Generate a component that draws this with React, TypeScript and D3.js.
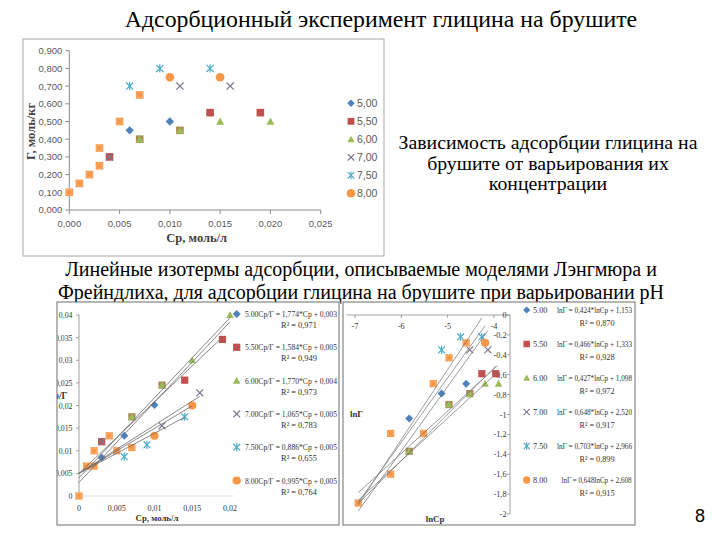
import React from 'react';
import * as d3 from 'd3';

// ---------- shared series info ----------
const seriesNamesComma = ["5,00", "5,50", "6,00", "7,00", "7,50", "8,00"];
const seriesNamesDot = ["5.00", "5.50", "6.00", "7.00", "7.50", "8.00"];
const seriesColors = ["#4F81BD", "#C0504D", "#9BBB59", "#7D7790", "#4BACC6", "#F79646"];
const seriesShapes = ["diamond", "square", "triangle", "x", "star", "circle"];

// ---------- top chart: Г vs Cp ----------
const topXTicks = [0, 0.005, 0.01, 0.015, 0.02, 0.025];
const topXTickLabels = ["0,000", "0,005", "0,010", "0,015", "0,020", "0,025"];
const topYTicks = [0, 0.1, 0.2, 0.3, 0.4, 0.5, 0.6, 0.7, 0.8, 0.9];
const topYTickLabels = ["0,000", "0,100", "0,200", "0,300", "0,400", "0,500", "0,600", "0,700", "0,800", "0,900"];
const top500 = [[0.006, 0.45], [0.01, 0.5]];
const top550 = [[0.004, 0.3], [0.007, 0.4], [0.011, 0.45], [0.014, 0.55], [0.019, 0.55]];
const top600 = [[0.007, 0.4], [0.011, 0.45], [0.015, 0.5], [0.02, 0.5]];
const top700 = [[0.004, 0.3], [0.011, 0.7], [0.016, 0.7]];
const top750 = [[0.006, 0.7], [0.009, 0.8], [0.014, 0.8]];
const top800 = [[0, 0.1, "s"], [0.001, 0.15, "s"], [0.002, 0.2, "s"], [0.003, 0.25, "s"], [0.003, 0.35, "s"], [0.005, 0.5, "s"], [0.007, 0.65, "s"], [0.01, 0.75, "c"], [0.015, 0.75, "c"]];

// ---------- bottom-left chart: Cp/Г vs Cp ----------
const blXTicks = [0, 0.005, 0.01, 0.015, 0.02];
const blXTickLabels = ["0", "0,005", "0,01", "0,015", "0,02"];
const blYTicks = [0, 0.005, 0.01, 0.015, 0.02, 0.025, 0.03, 0.035, 0.04];
const blYTickLabels = ["0", "0,005", "0,01", "0,015", "0,02", "0,025", "0,03", "0,035", "0,04"];
const bl500 = [[0.003, 0.0085], [0.006, 0.0133], [0.01, 0.0201]];
const bl550 = [[0.003, 0.012], [0.007, 0.0175], [0.011, 0.0245], [0.014, 0.0256], [0.019, 0.0346]];
const bl600 = [[0.007, 0.0175], [0.011, 0.0245], [0.015, 0.03], [0.02, 0.04]];
const bl700 = [[0.003, 0.012], [0.011, 0.0155], [0.016, 0.0228]];
const bl750 = [[0.006, 0.0087], [0.009, 0.0113], [0.014, 0.0175]];
const bl800 = [[0, 0, "s"], [0.001, 0.0066, "s"], [0.002, 0.01, "s"], [0.002, 0.0066, "s"], [0.004, 0.0133, "s"], [0.005, 0.01, "s"], [0.007, 0.0107, "s"], [0.01, 0.0133, "c"], [0.015, 0.02, "c"]];
const blSlopes = [1.774, 1.584, 1.770, 1.065, 0.886, 0.995];
const blIntercepts = [0.003, 0.005, 0.004, 0.005, 0.005, 0.005];
const blLineEnds = [0.02, 0.019, 0.02, 0.016, 0.014, 0.015];
const blEquations = ["Cp/Г = 1,774*Cp + 0,003", "Cp/Г = 1,584*Cp + 0,005", "Cp/Г = 1,770*Cp + 0,004", "Cp/Г = 1,065*Cp + 0,005", "Cp/Г = 0,886*Cp + 0,005", "Cp/Г = 0,995*Cp + 0,005"];
const blR2 = ["0,971", "0,949", "0,973", "0,783", "0,655", "0,764"];

// ---------- bottom-right chart: lnГ vs lnCp ----------
const brXTicks = [-7, -6, -5, -4];
const brXTickLabels = ["-7", "-6", "-5", "-4"];
const brYTicks = [0, -0.2, -0.4, -0.6, -0.8, -1, -1.2, -1.4, -1.6, -1.8, -2];
const brYTickLabels = ["0", "-0,2", "-0,4", "-0,6", "-0,8", "-1", "-1,2", "-1,4", "-1,6", "-1,8", "-2"];
const br500 = [[-5.83, -1.04], [-5.13, -0.79], [-4.6, -0.69]];
const br550 = [[-5.83, -1.37], [-4.97, -0.9], [-4.52, -0.79], [-4.26, -0.59], [-3.96, -0.59]];
const br600 = [[-5.83, -1.37], [-4.97, -0.9], [-4.52, -0.79], [-4.19, -0.69], [-3.9, -0.69]];
const br700 = [[-4.52, -0.35], [-4.13, -0.35]];
const br750 = [[-5.13, -0.35], [-4.72, -0.22], [-4.26, -0.22]];
const br800 = [[-6.93, -1.89, "s"], [-6.23, -1.6, "s"], [-6.23, -1.19, "s"], [-5.52, -1.19, "s"], [-5.31, -0.69, "s"], [-4.97, -0.43, "s"], [-4.6, -0.28, "s"], [-4.19, -0.28, "c"]];
const brSlopes = [0.424, 0.466, 0.427, 0.648, 0.703, 0.648];
const brIntercepts = [1.153, 1.333, 1.098, 2.520, 2.966, 2.608];
const brLineStart = -6.93;
const brLineEnds = [-3.92, -3.96, -3.9, -4.13, -4.26, -4.19];
const brEquations = ["lnГ = 0,424*lnCp + 1,153", "lnГ = 0,466*lnCp + 1,333", "lnГ = 0,427*lnCp + 1,098", "lnГ = 0,648*lnCp + 2,520", "lnГ = 0,703*lnCp + 2,966", "lnГ = 0,648lnCp + 2,608"];
const brR2 = ["0,870", "0,928", "0,972", "0,917", "0,899", "0,915"];

// ---------- texts ----------
const titleText = "Адсорбционный эксперимент глицина на брушите";
const sideText = ["Зависимость адсорбции глицина на", "брушите от варьирования их", "концентрации"];
const midText = ["Линейные изотермы адсорбции, описываемые моделями Лэнгмюра и", "Фрейндлиха, для адсорбции глицина на брушите при варьировании pH"];
const pageNumber = "8";

const SERIF = "Liberation Serif, Tinos, Times New Roman, DejaVu Serif, serif";
const SANS = "Liberation Sans, Arial, sans-serif";
const OLIVE = d3.interpolateRgb(seriesColors[1], seriesColors[2])(0.5);

type Pt = any[];

function Marker({ shape, x, y, color, k = 1, fill }: { shape: string; x: number; y: number; color: string; k?: number; fill?: string }) {
  const f = fill || color;
  if (shape === "diamond") {
    const h = 4.2 * k;
    return <polygon points={`${x},${y - h} ${x + h},${y} ${x},${y + h} ${x - h},${y}`} fill={f} />;
  }
  if (shape === "square") {
    const h = 3.8 * k;
    return <rect x={x - h} y={y - h} width={2 * h} height={2 * h} fill={f} />;
  }
  if (shape === "triangle") {
    const h = 4 * k;
    return <polygon points={`${x},${y - h} ${x + h},${y + h * 0.8} ${x - h},${y + h * 0.8}`} fill={f} />;
  }
  if (shape === "x") {
    const h = 3.6 * k;
    return (
      <g stroke={color} strokeWidth={1.2}>
        <line x1={x - h} y1={y - h} x2={x + h} y2={y + h} />
        <line x1={x - h} y1={y + h} x2={x + h} y2={y - h} />
      </g>
    );
  }
  if (shape === "star") {
    const h = 3.6 * k;
    return (
      <g stroke={color} strokeWidth={1.2}>
        <line x1={x - h} y1={y - h} x2={x + h} y2={y + h} />
        <line x1={x - h} y1={y + h} x2={x + h} y2={y - h} />
        <line x1={x} y1={y - h - 0.6} x2={x} y2={y + h + 0.6} />
      </g>
    );
  }
  return <circle cx={x} cy={y} r={4.3 * k} fill={f} />;
}

function Points({ series, sx, sy, k = 1 }: { series: Pt[][]; sx: any; sy: any; k?: number }) {
  const out: any[] = [];
  series.forEach((pts, si) => {
    pts.forEach((p, pi) => {
      const x = sx(p[0]);
      const y = sy(p[1]);
      let fill = seriesColors[si];
      if (si === 1 && series[2].some((q) => q[0] === p[0] && q[1] === p[1])) fill = OLIVE;
      if (si === 5 && p[2] === "s") {
        out.push(<Marker key={`s${si}-${pi}`} shape="square" x={x} y={y} color={seriesColors[5]} k={k} />);
        out.push(<circle key={`c${si}-${pi}`} cx={x} cy={y} r={3 * k} fill="none" stroke="#FBB782" strokeWidth={0.7} />);
      } else {
        out.push(<Marker key={`m${si}-${pi}`} shape={seriesShapes[si]} x={x} y={y} color={seriesColors[si]} fill={fill} k={k} />);
      }
    });
  });
  return <g>{out}</g>;
}

function T(props: any) {
  const { children, family, ...rest } = props;
  return <text {...rest} style={{ fontFamily: family }}>{children}</text>;
}

function TopChart() {
  const sx = d3.scaleLinear().domain([0, 0.025]).range([69.3, 320.7]);
  const sy = d3.scaleLinear().domain([0, 0.9]).range([210, 50.7]);
  const axisColor = "#8c8c8c";
  const series = [top500, top550, top600, top700, top750, top800];
  return (
    <g>
      <rect x={23} y={39} width={361} height={217} fill="#fff" stroke="#a6a6a6" strokeWidth={1} />
      <line x1={sx(0)} x2={sx(0)} y1={sy(0)} y2={sy(0.9)} stroke={axisColor} />
      <line x1={sx(0)} x2={sx(0.025)} y1={sy(0)} y2={sy(0)} stroke={axisColor} />
      {topYTicks.map((t, i) => (
        <g key={`yt${i}`}>
          <line x1={sx(0) - 4} x2={sx(0)} y1={sy(t)} y2={sy(t)} stroke={axisColor} />
          <T x={sx(0) - 7} y={sy(t) + 3.4} textAnchor="end" family={SANS} fontSize={9.5} fill="#595959">{topYTickLabels[i]}</T>
        </g>
      ))}
      {topXTicks.map((t, i) => (
        <g key={`xt${i}`}>
          <line x1={sx(t)} x2={sx(t)} y1={sy(0)} y2={sy(0) + 4} stroke={axisColor} />
          <T x={sx(t)} y={226.5} textAnchor="middle" family={SANS} fontSize={9.5} fill="#595959">{topXTickLabels[i]}</T>
        </g>
      ))}
      <T x={196.7} y={242} textAnchor="middle" family={SERIF} fontWeight="bold" fontSize={12.5} fill="#404040">Ср, моль/л</T>
      <T transform={`translate(34.5,131.5) rotate(-90)`} textAnchor="middle" family={SERIF} fontWeight="bold" fontSize={12.5} fill="#404040">Г, моль/кг</T>
      <Points series={series} sx={sx} sy={sy} />
      {seriesNamesComma.map((n, i) => {
        const y = 103.3 + i * 18;
        return (
          <g key={`lg${i}`}>
            {i === 5 ? <circle cx={351} cy={y} r={4.3} fill={seriesColors[5]} /> : <Marker shape={seriesShapes[i]} x={351} y={y} color={seriesColors[i]} k={0.9} />}
            <T x={357} y={y + 3.8} family={SANS} fontSize={10.5} fill="#595959">{n}</T>
          </g>
        );
      })}
    </g>
  );
}

function BottomLeftChart() {
  const sx = d3.scaleLinear().domain([0, 0.02]).range([79, 230]);
  const sy = d3.scaleLinear().domain([0, 0.04]).range([496, 315]);
  const series = [bl500, bl550, bl600, bl700, bl750, bl800];
  const axisColor = "#8c8c8c";
  return (
    <g>
      <defs>
        <clipPath id="blclip"><rect x={57} y={302} width={282} height={223} /></clipPath>
      </defs>
      <rect x={57} y={302} width={282} height={223} fill="#fff" />
      <g clipPath="url(#blclip)">
        <line x1={sx(0)} x2={sx(0)} y1={sy(0)} y2={sy(0.04)} stroke={axisColor} strokeWidth={0.8} />
        <line x1={sx(0)} x2={sx(0.0205)} y1={sy(0)} y2={sy(0)} stroke="#d0d0d0" strokeWidth={0.6} />
        {blYTicks.map((t, i) => (
          <g key={`yt${i}`}>
            <line x1={sx(0) - 3} x2={sx(0)} y1={sy(t)} y2={sy(t)} stroke={axisColor} strokeWidth={0.8} />
            <T x={72.5} y={sy(t) + 3} textAnchor="end" family={SERIF} fontSize={7.8} fill="#333">{blYTickLabels[i]}</T>
          </g>
        ))}
        {blXTicks.map((t, i) => (
          <T key={`xt${i}`} x={sx(t)} y={511} textAnchor="middle" family={SERIF} fontSize={8} fill="#333">{blXTickLabels[i]}</T>
        ))}
        <T x={157} y={521} textAnchor="middle" family={SERIF} fontWeight="bold" fontSize={8.8} fill="#333">Ср, моль/л</T>
        <T x={67.5} y={399} textAnchor="end" family={SERIF} fontWeight="bold" fontSize={9.3} fill="#333">Cp/Г</T>
        <Points series={series} sx={sx} sy={sy} k={0.95} />
        {blSlopes.map((m, i) => (
          <line key={`tl${i}`} x1={sx(0)} y1={sy(blIntercepts[i])} x2={sx(blLineEnds[i])} y2={sy(m * blLineEnds[i] + blIntercepts[i])} stroke="#6a6a6a" strokeWidth={0.8} />
        ))}
        {seriesNamesDot.map((n, i) => {
          const y = 314 + i * 33.3;
          return (
            <g key={`lg${i}`}>
              <Marker shape={seriesShapes[i]} x={236.7} y={y} color={seriesColors[i]} k={0.95} />
              <T x={245} y={y + 3} family={SERIF} fontSize={8.4} fill="#333" textLength={92} lengthAdjust="spacingAndGlyphs">{n + blEquations[i]}</T>
              <T x={299} y={y + 14} textAnchor="middle" family={SERIF} fontSize={8.4} fill="#333">R² = {blR2[i]}</T>
            </g>
          );
        })}
      </g>
      <rect x={57} y={302} width={282} height={223} fill="none" stroke="#6f6f6f" strokeWidth={1} />
    </g>
  );
}

function BottomRightChart() {
  const sx = d3.scaleLinear().domain([-7, -4]).range([355, 493.9]);
  const sy = d3.scaleLinear().domain([-2, 0]).range([514, 315]);
  const series = [br500, br550, br600, br700, br750, br800];
  const axisColor = "#8c8c8c";
  const axX = 510;
  return (
    <g>
      <rect x={343} y={302} width={292} height={223} fill="#fff" />
      <line x1={sx(-7.18)} x2={axX} y1={sy(0)} y2={sy(0)} stroke={axisColor} strokeWidth={0.8} />
      <line x1={axX} x2={axX} y1={sy(0)} y2={sy(-2)} stroke={axisColor} strokeWidth={0.8} />
      {brXTicks.map((t, i) => (
        <g key={`xt${i}`}>
          <line x1={sx(t)} x2={sx(t)} y1={sy(0)} y2={sy(0) + 3} stroke={axisColor} strokeWidth={0.8} />
          <T x={sx(t)} y={329} textAnchor="middle" family={SERIF} fontSize={8.2} fill="#333">{brXTickLabels[i]}</T>
        </g>
      ))}
      {brYTicks.map((t, i) => (
        <g key={`yt${i}`}>
          <line x1={axX - 3} x2={axX} y1={sy(t)} y2={sy(t)} stroke={axisColor} strokeWidth={0.8} />
          <T x={506.5} y={sy(t) + 3} textAnchor="end" family={SERIF} fontSize={8.2} fill="#333">{brYTickLabels[i]}</T>
        </g>
      ))}
      <T x={435} y={521.5} textAnchor="middle" family={SERIF} fontWeight="bold" fontSize={8.8} fill="#333">lnCp</T>
      <T x={350} y={416.5} family={SERIF} fontWeight="bold" fontSize={8.8} fill="#333">lnГ</T>
      <Points series={series} sx={sx} sy={sy} k={0.95} />
      {brSlopes.map((m, i) => (
        <line key={`tl${i}`} x1={sx(brLineStart)} y1={sy(m * brLineStart + brIntercepts[i])} x2={sx(brLineEnds[i])} y2={sy(m * brLineEnds[i] + brIntercepts[i])} stroke="#7a7a7a" strokeWidth={0.75} />
      ))}
      {seriesNamesDot.map((n, i) => {
        const y = 310 + i * 34;
        const last = i === 5;
        return (
          <g key={`lg${i}`}>
            <Marker shape={seriesShapes[i]} x={526.7} y={y} color={seriesColors[i]} k={0.85} />
            <T x={533} y={y + 3} family={SERIF} fontSize={8.2} fill="#333">{n}</T>
            <T x={last ? 561.5 : 557} y={y + 3} family={SERIF} fontSize={8} fill="#333" textLength={last ? 70 : 75} lengthAdjust="spacingAndGlyphs">{brEquations[i]}</T>
            <T x={597} y={y + 15.5} textAnchor="middle" family={SERIF} fontSize={8.2} fill="#333">R² = {brR2[i]}</T>
          </g>
        );
      })}
      <rect x={343} y={302} width={292} height={223} fill="none" stroke="#6f6f6f" strokeWidth={1} />
    </g>
  );
}

export default function App() {
  return (
    <svg width={720} height={540} viewBox="0 0 720 540" style={{ position: "absolute", left: 0, top: 0, background: "#fff" }}>
      <rect x={0} y={0} width={720} height={540} fill="#fff" />
      <T x={381} y={26.5} textAnchor="middle" family={SERIF} fontSize={23.8} fill="#000">{titleText}</T>
      <TopChart />
      {sideText.map((t, i) => (
        <T key={`st${i}`} x={548} y={149} dy={i * 20.5} textAnchor="middle" family={SERIF} fontSize={19.8} fill="#000">{t}</T>
      ))}
      {midText.map((t, i) => (
        <T key={`mt${i}`} x={361} y={276 + i * 23} textAnchor="middle" family={SERIF} fontSize={20} fill="#000">{t}</T>
      ))}
      <BottomLeftChart />
      <BottomRightChart />
      <T x={700} y={522} textAnchor="middle" family={SANS} fontSize={18} fill="#000">{pageNumber}</T>
    </svg>
  );
}
